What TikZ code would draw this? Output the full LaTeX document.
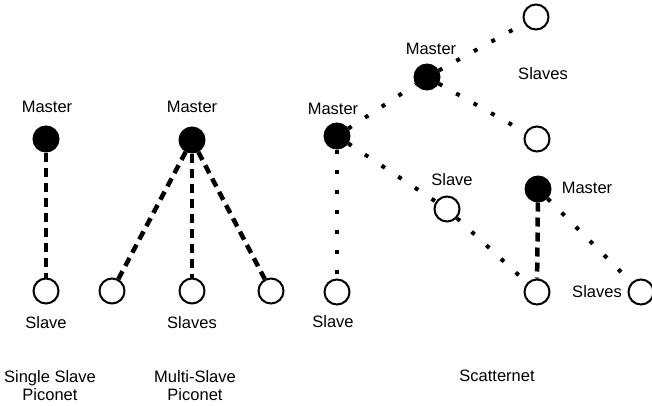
\documentclass[tikz,border=0pt]{standalone}
\usepackage{fontspec}
\setmainfont{Liberation Sans}
\begin{document}
\begin{tikzpicture}[x=1pt, y=-1pt, line cap=butt,
  master/.style={circle, draw, fill=black, line width=1pt, minimum size=26pt, inner sep=0pt},
  slave/.style={circle, draw, line width=2pt, minimum size=25pt, inner sep=0pt},
  lbl/.style={font=\fontsize{16.5}{18}\selectfont, inner sep=0pt, align=center},
  dashlink/.style={line width=4.5pt, dash pattern=on 9pt off 6pt},
  dotlink/.style={line width=4pt, dash pattern=on 4pt off 16pt}]
  \useasboundingbox (0,0) rectangle (652,405);
  % single slave piconet
  \node[master] (m1) at (46,139) {};
  \node[slave] (s1) at (46,291) {};
  \draw[dashlink] (m1) -- (s1);
  \node[lbl] (m1t) at (47,107) {Master};
  \node[lbl] (s1t) at (46,323) {Slave};
  \node[lbl] (cap1) at (50,386) {Single Slave\\Piconet};
  % multi-slave piconet
  \node[master] (m2) at (192,140) {};
  \node[slave] (s2a) at (112,291) {};
  \node[slave] (s2b) at (192,291) {};
  \node[slave] (s2c) at (271,291) {};
  \foreach \s in {s2a,s2b,s2c}
    \draw[dashlink] (m2) -- (\s);
  \node[lbl] (m2t) at (192,107) {Master};
  \node[lbl] (s2t) at (192,323) {Slaves};
  \node[lbl] (cap2) at (195,386) {Multi-Slave\\Piconet};
  % scatternet
  \node[master] (m3) at (337,136) {};
  \node[master] (m4) at (427,77) {};
  \node[master] (m5) at (538,189) {};
  \node[slave] (s3) at (337,292) {};
  \node[slave] (s4) at (536,17) {};
  \node[slave] (s5) at (537,139) {};
  \node[slave] (s6) at (447,209) {};
  \node[slave] (s7) at (537,292) {};
  \node[slave] (s8) at (641,292) {};
  \draw[dotlink] (m3) -- (m4);
  \draw[dotlink] (m4) -- (s4);
  \draw[dotlink] (m4) -- (s5);
  \draw[dotlink] (m3) -- (s3);
  \draw[dotlink] (m3) -- (s6);
  \draw[dotlink] (s6) -- (s7);
  \draw[dotlink] (m5) -- (s8);
  \draw[dashlink] (m5) -- (s7);
  \node[lbl] (m3t) at (333,109) {Master};
  \node[lbl] (m4t) at (431,49) {Master};
  \node[lbl] (m5t) at (587,188) {Master};
  \node[lbl] (s3t) at (333,322) {Slave};
  \node[lbl] (s45t) at (543,74) {Slaves};
  \node[lbl] (s6t) at (452,180) {Slave};
  \node[lbl] (s8t) at (597,292) {Slaves};
  \node[lbl] (cap3) at (497,376) {Scatternet};
\end{tikzpicture}
\end{document}
